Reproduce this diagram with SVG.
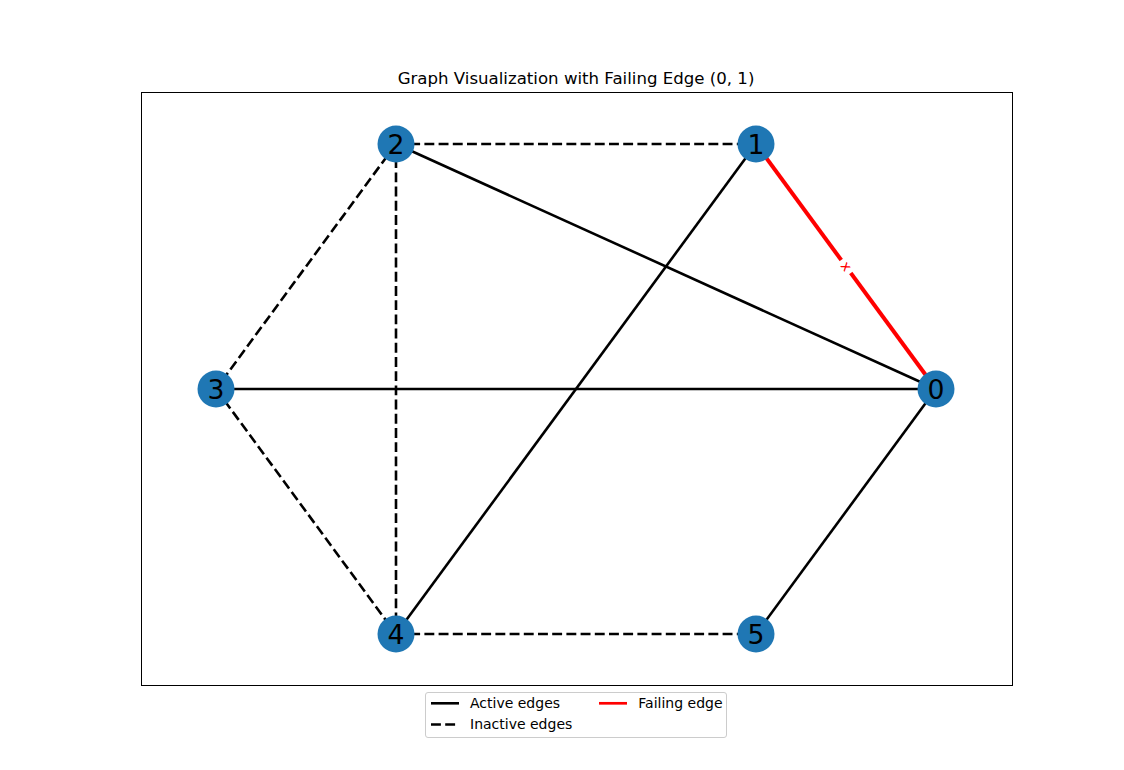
<svg xmlns="http://www.w3.org/2000/svg" width="1124" height="770" viewBox="0 0 1124 770">
<style>
text{font-family:"DejaVu Sans","Liberation Sans",sans-serif;fill:#000}
.e{stroke:#000;stroke-width:2.6;fill:none}
.d{stroke-dasharray:9.9 4.3}
.f{stroke:#ff0000;stroke-width:4;fill:none}
.n{fill:#1f77b4}
.nl{font-size:26.7px;text-anchor:middle}
.lg{font-size:14px}
</style>
<rect width="1124" height="770" fill="#fff"/>
<rect x="141.5" y="92.5" width="871" height="593" fill="none" stroke="#000" stroke-width="1"/>
<text x="576" y="84" font-size="16.6" text-anchor="middle">Graph Visualization with Failing Edge (0, 1)</text>
<g id="connectors">
<line class="e" x1="396" y1="144" x2="936" y2="389"/>
<line class="e" x1="756" y1="144" x2="396" y2="634"/>
<line class="e" x1="216" y1="389" x2="936" y2="389"/>
<line class="e" x1="936" y1="389" x2="756" y2="634"/>
<line class="e d" x1="396" y1="144" x2="756" y2="144"/>
<line class="e d" x1="396" y1="144" x2="216" y2="389"/>
<line class="e d" x1="396" y1="144" x2="396" y2="634"/>
<line class="e d" x1="216" y1="389" x2="396" y2="634"/>
<line class="e d" x1="396" y1="634" x2="756" y2="634"/>
<line class="f" x1="756" y1="144" x2="936" y2="389"/>
<g transform="translate(846,266.5) rotate(53.7)">
<rect x="-8" y="-6" width="16" height="12" fill="#fff"/>
<text x="0" y="4.5" font-size="14" text-anchor="middle" style="fill:#ff0000">x</text>
</g>
</g>
<g id="node0"><circle class="n" cx="936" cy="389" r="18.5"/><text class="nl" x="936" y="398.7">0</text></g>
<g id="node1"><circle class="n" cx="756" cy="144" r="18.5"/><text class="nl" x="756" y="153.7">1</text></g>
<g id="node2"><circle class="n" cx="396" cy="144" r="18.5"/><text class="nl" x="396" y="153.7">2</text></g>
<g id="node3"><circle class="n" cx="216" cy="389" r="18.5"/><text class="nl" x="216" y="398.7">3</text></g>
<g id="node4"><circle class="n" cx="396" cy="634" r="18.5"/><text class="nl" x="396" y="643.7">4</text></g>
<g id="node5"><circle class="n" cx="756" cy="634" r="18.5"/><text class="nl" x="756" y="643.7">5</text></g>
<g id="legend">
<rect x="425.5" y="692.5" width="301" height="45" rx="2.5" fill="#fff" fill-opacity="0.8" stroke="#ccc" stroke-width="1"/>
<line class="e" x1="431" y1="703.3" x2="459" y2="703.3"/>
<text class="lg" x="470" y="708.3">Active edges</text>
<line class="e d" x1="431" y1="724.5" x2="459" y2="724.5"/>
<text class="lg" x="470" y="729.3">Inactive edges</text>
<line class="f" x1="599" y1="703.3" x2="627" y2="703.3" style="stroke-width:2.7"/>
<text class="lg" x="638.3" y="708.3">Failing edge</text>
</g>
</svg>
